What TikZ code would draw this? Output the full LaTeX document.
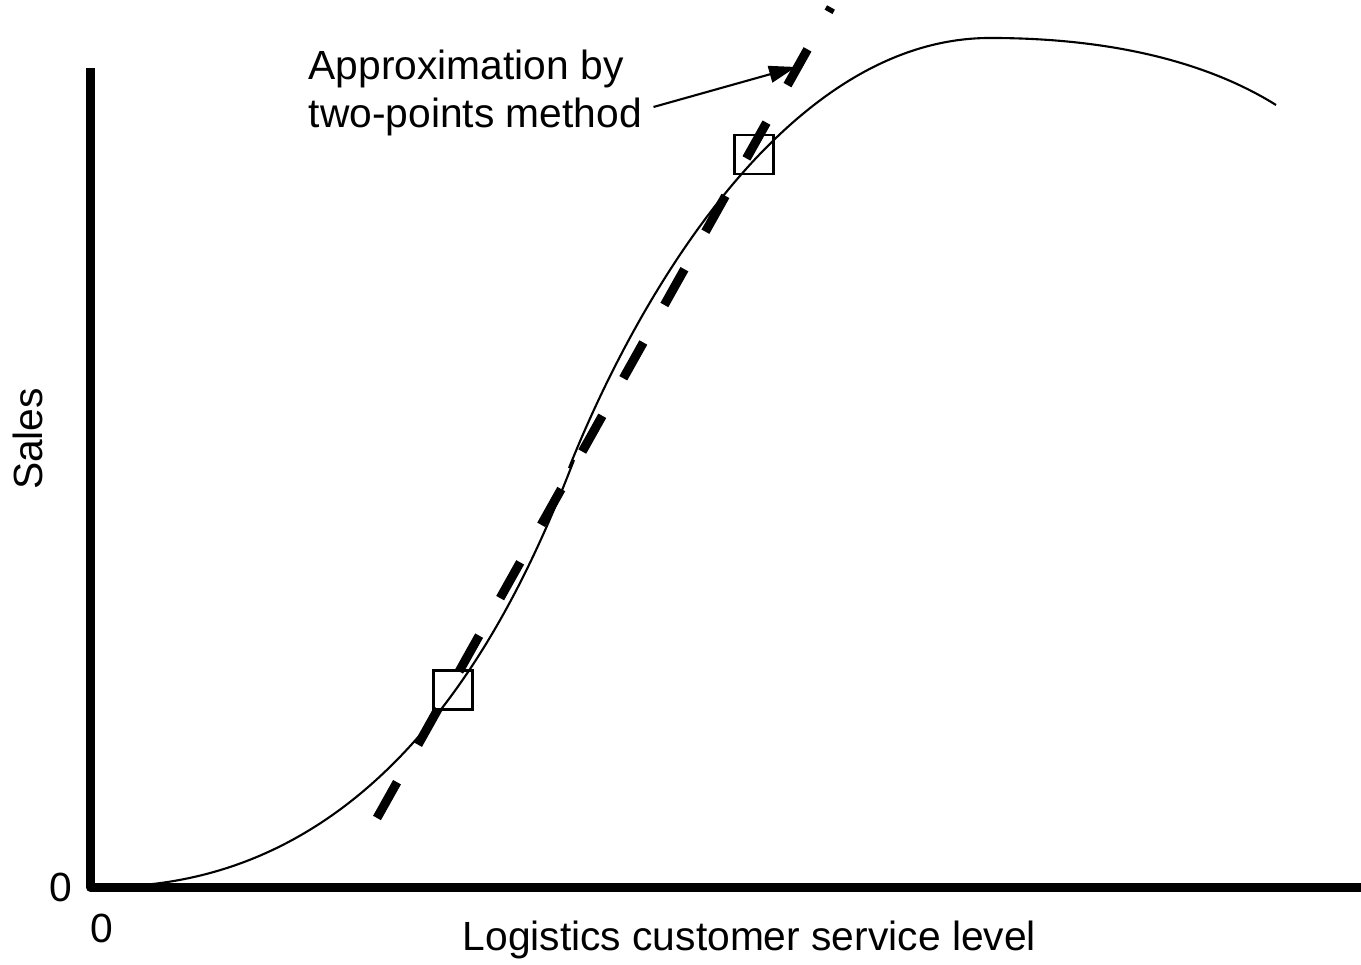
\documentclass[tikz,border=0pt]{standalone}
\usepackage{fontspec}
\setmainfont{Liberation Sans}
\usetikzlibrary{arrows.meta}

\begin{document}
\begin{tikzpicture}[
	axis/.style={line width=0.085cm, line join=round},
	curve/.style={line width=0.6pt},
	approx/.style={line width=0.09cm, dash pattern=on 0.41cm off 0.43cm},
	marker/.style={draw, line width=0.6pt, minimum size=0.39cm, inner sep=0pt},
	txt/.style={font=\fontsize{11.6pt}{13.4pt}\selectfont, inner sep=0pt}]
		\useasboundingbox (0,0) rectangle (13.61,9.65);
		\coordinate (top) at (0.905,8.97);
		\coordinate (origin) at (0.905,0.775);
		\coordinate (right) at (13.61,0.775);
		\draw[axis] (top) -- (origin) -- (right);
		\draw[approx] (3.77,1.47) -- (8.31,9.575);
		\draw[curve] (1.30,0.79) .. controls (4.00,0.95) and (5.20,3.65) .. (5.74,5.05);
		\draw[curve] (5.69,4.97) .. controls (6.40,6.75) and (7.90,9.27) .. (9.90,9.27)
			.. controls (11.30,9.27) and (12.20,8.95) .. (12.76,8.60);
		\node[marker] (low) at (4.53,2.75) {};
		\node[marker] (high) at (7.54,8.105) {};
		\node[txt, anchor=west, align=left] (note) at (3.08,8.72) {Approximation by\\two-points method};
		\coordinate (tip) at (7.96,8.98);
		\draw[curve, -{Triangle[length=0.27cm, width=0.17cm]}] ([xshift=0.11cm, yshift=-0.14cm]note.east) -- (tip);
		\node[txt, rotate=90, anchor=base] (ylabel) at (0.43,5.26) {Sales};
		\node[txt, anchor=base west] (xlabel) at (4.62,0.14) {Logistics customer service level};
		\node[txt, anchor=base] (yzero) at (0.61,0.63) {0};
		\node[txt, anchor=base] (xzero) at (1.015,0.22) {0};
\end{tikzpicture}
\end{document}
